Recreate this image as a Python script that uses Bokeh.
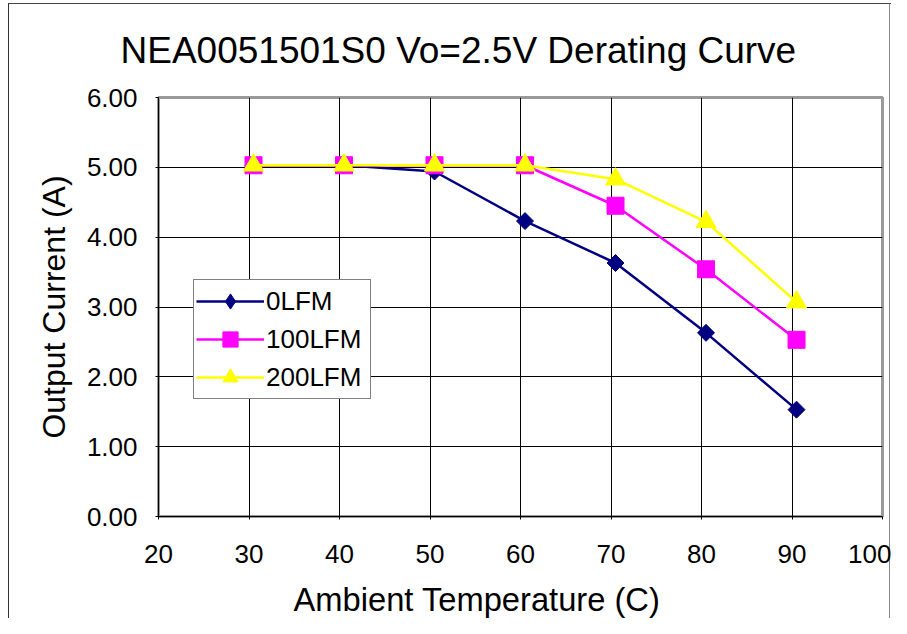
from bokeh.plotting import figure
from bokeh.models import (Range1d, FixedTicker, PrintfTickFormatter, Title,
                          Legend, LegendItem)
from bokeh.embed import file_html
from bokeh.resources import INLINE
import numpy as np

# ---- data ----
temps = [30.5, 40.5, 50.5, 60.5, 70.5, 80.5, 90.5]
lfm0 = [5.03, 5.03, 4.94, 4.23, 3.63, 2.63, 1.53]
lfm100 = [5.03, 5.03, 5.03, 5.03, 4.45, 3.54, 2.53]
lfm200 = [5.03, 5.03, 5.03, 5.03, 4.83, 4.22, 3.07]
x_ticks = [20, 30, 40, 50, 60, 70, 80, 90, 100]
y_ticks = [0, 1, 2, 3, 4, 5, 6]
title_text = "NEA0051501S0 Vo=2.5V Derating Curve"
x_label = "Ambient Temperature (C)"
y_label = "Output Current (A)"

FONT = "Liberation Sans"

p = figure(width=891, height=618, output_backend="svg", toolbar_location=None,
           x_range=Range1d(20, 100), y_range=Range1d(0, 6),
           min_border_left=158, min_border_right=9, min_border_top=97,
           min_border_bottom=101)

# outer chart-area border drawn behind a transparent canvas border area
p.border_fill_alpha = 0
p.styles = {
    "background": ("linear-gradient(#333333,#333333) 8px 3px / 1px 100% no-repeat, "
                   "linear-gradient(#444444,#444444) 8px 3px / 100% 1px no-repeat, "
                   "linear-gradient(#888888,#888888) 889px 3px / 1px 100% no-repeat, "
                   "white")
}

p.title.text = title_text
p.title.text_font = FONT
p.title.text_font_size = "37px"
p.title.text_font_style = "normal"
p.title.text_color = "black"
p.title.align = "left"
p.title.offset = -38
p.title.standoff = 54

p.background_fill_color = "white"
p.outline_line_color = "#9a9a9a"
p.outline_line_width = 3

for ax in (p.xaxis[0], p.yaxis[0]):
    ax.axis_line_color = "black"
    ax.axis_line_width = 1
    ax.major_tick_line_color = "black"
    ax.major_tick_in = 0
    ax.major_tick_out = 3
    ax.minor_tick_line_color = None
    ax.major_label_text_font = FONT
    ax.major_label_text_font_size = "26px"
    ax.major_label_text_color = "black"

p.xaxis.ticker = FixedTicker(ticks=x_ticks)
p.yaxis.ticker = FixedTicker(ticks=y_ticks)
p.yaxis.formatter = PrintfTickFormatter(format="%.2f")
p.xaxis.major_label_standoff = 25
p.yaxis.major_label_standoff = 18

# tiny spacer label under the x tick labels pushes the axis title down
p.xaxis.axis_label = " "
p.xaxis.axis_label_text_font_size = "1px"
p.xaxis.axis_label_standoff = 8

p.yaxis.axis_label = y_label
p.yaxis.axis_label_text_font = FONT
p.yaxis.axis_label_text_font_size = "32px"
p.yaxis.axis_label_text_font_style = "normal"
p.yaxis.axis_label_text_color = "black"
p.yaxis.axis_label_standoff = 12

xt = Title(text=x_label, text_font=FONT, text_font_size="32.7px",
           text_font_style="normal", text_color="black", align="left",
           offset=135, standoff=2)
p.add_layout(xt, "below")

p.xgrid.grid_line_color = "black"
p.ygrid.grid_line_color = "black"
p.xgrid.grid_line_width = 1
p.ygrid.grid_line_width = 1

# series
l0 = p.line(temps, lfm0, line_color="#000080", line_width=2.5)
s0 = p.scatter(temps, lfm0, marker="square", size=12, angle=np.pi / 4,
               fill_color="#000080", line_color="#000080")
d0 = p.scatter(temps, lfm0, marker="diamond", size=0,
               fill_color="#000080", line_color="#000080")
l1 = p.line(temps, lfm100, line_color="#FF00FF", line_width=2.5)
s1 = p.scatter(temps, lfm100, marker="square", size=17,
               fill_color="#FF00FF", line_color="#FF00FF")
l2 = p.line(temps, lfm200, line_color="#FFFF00", line_width=2.5)
s2 = p.scatter(temps, lfm200, marker="triangle", size=20,
               fill_color="#FFFF00", line_color="#FFFF00")

lg = Legend(items=[LegendItem(label="0LFM", renderers=[l0, d0]),
                   LegendItem(label="100LFM", renderers=[l1, s1]),
                   LegendItem(label="200LFM", renderers=[l2, s2])])
lg.location = (35, 117)
lg.margin = 0
lg.padding = 2
lg.spacing = 0
lg.glyph_width = 68
lg.glyph_height = 38
lg.label_standoff = 2
lg.label_width = 102
lg.label_text_font = FONT
lg.label_text_font_size = "26px"
lg.label_text_color = "black"
lg.border_line_color = "black"
lg.border_line_width = 1
lg.background_fill_color = "white"
lg.background_fill_alpha = 1.0
p.add_layout(lg, "center")

open("out.html", "w").write(file_html(p, INLINE))
